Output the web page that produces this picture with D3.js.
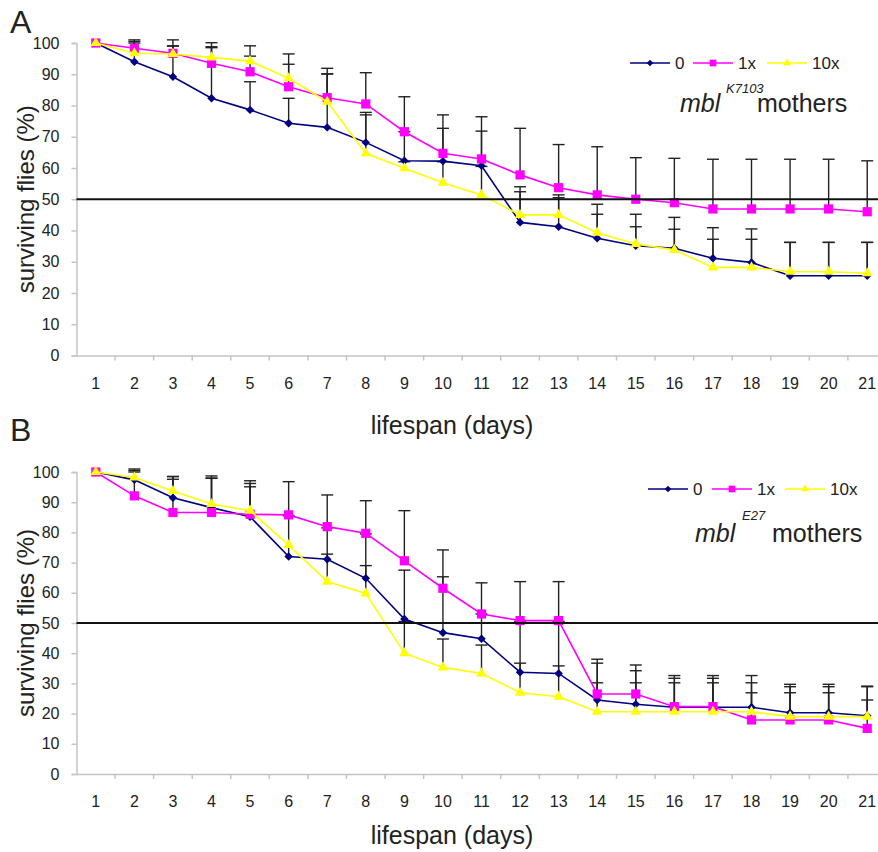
<!DOCTYPE html>
<html>
<head>
<meta charset="utf-8">
<script src="https://cdn.jsdelivr.net/npm/d3@7/dist/d3.min.js"></script>
<style>
  body { margin: 0; background: #fff; }
  text { font-family: "Liberation Sans", Arial, sans-serif; fill: #222; }
</style>
</head>
<body>
<div class="canvas"></div>
<script>
// data (surviving flies, %)
const days = [1, 2, 3, 4, 5, 6, 7, 8, 9, 10, 11, 12, 13, 14, 15, 16, 17, 18, 19, 20, 21];
const yTicks = [0, 10, 20, 30, 40, 50, 60, 70, 80, 90, 100];
const seriesNames = ['0', '1x', '10x'];

// panel A : mbl K7103 mothers
const aCtrl = [100, 94.0, 89.2, 82.3, 78.6, 74.3, 73.0, 68.2, 62.3, 62.2, 60.7, 42.6, 41.2, 37.5, 35.1, 34.3, 31.1, 29.8, 25.5, 25.5, 25.5];
const a1x = [100, 98.3, 96.7, 93.5, 90.8, 86.0, 82.5, 80.5, 71.6, 64.7, 62.9, 57.8, 53.7, 51.4, 50.0, 48.9, 46.9, 46.9, 46.9, 46.9, 46.0];
const a10x = [100, 96.7, 96.5, 95.4, 94.2, 88.7, 81.2, 64.7, 59.9, 55.3, 51.4, 45.0, 45.0, 39.3, 35.7, 33.8, 28.2, 28.2, 26.8, 26.8, 26.3];
// upper end of the error bars (null = no bar seen)
const aCtrlUp = [null, 100.5, 101, 100.1, 87.6, 82.3, 90.1, 77.8, 71.6, 72.7, 71.8, 52.4, 51.4, 48.4, 45.2, 44.2, 40.9, 40.5, 36.2, 36.2, 36.2];
const a1xUp = [null, 101, 99.1, 98.8, 95.8, 93.2, 91.9, 90.5, 82.8, 77.0, 76.4, 72.7, 67.5, 66.8, 63.3, 63.1, 62.8, 62.8, 62.8, 62.8, 62.3];
const a10xUp = [null, 100, 99, 98.5, 99.1, 96.5, 90.1, 77.0, 62.0, 62.0, 60.5, 54.0, 50.5, 45.2, 41.2, 40.4, 37.2, 37.2, 36.2, 36.2, 36.2];

// panel B : mbl E27 mothers
const bCtrl = [100, 97.4, 91.5, 88.2, 85.2, 72.0, 71.1, 64.8, 51.3, 46.8, 44.8, 33.7, 33.3, 24.5, 23.1, 22.1, 22.1, 22.1, 20.3, 20.3, 19.3];
const b1x = [100, 92.1, 86.6, 86.6, 86.0, 85.8, 81.9, 79.7, 70.6, 61.5, 53.0, 50.8, 50.8, 26.5, 26.5, 22.3, 22.3, 17.9, 17.9, 17.9, 15.1];
const b10x = [100, 98.2, 93.7, 89.4, 87.2, 75.8, 63.7, 59.8, 40.0, 35.3, 33.3, 26.9, 25.6, 20.6, 20.6, 20.6, 20.6, 20.6, 19.0, 19.0, 19.0];
const bCtrlUp = [null, 101, 98.5, 97.9, 97.1, 85.5, 81.5, 79.5, 67.5, 65.3, 53.0, 50.5, 50.5, 36.7, 34.2, 31.7, 31.7, 32.6, 29.7, 29.7, 29.1];
const b1xUp = [null, 100, 97.6, 98.7, 96.2, 96.8, 92.4, 90.5, 87.2, 74.2, 63.3, 63.7, 63.7, 38.0, 36.1, 32.6, 32.6, 26.9, 26.9, 26.9, 24.5];
const b10xUp = [null, 100.5, 98.5, 98.0, 95.1, null, 72.8, 69.0, 50.5, 44.7, 42.7, 36.7, 35.8, 30.2, 30.2, 30.2, 30.2, 30.2, 28.9, 28.9, 28.9];

const colors = ['#000080', '#ff00ff', '#ffff00'];

const width = 878, height = 852;
const svg = d3.select('.canvas')
  .append('svg')
  .attr('width', width)
  .attr('height', height);

// shared x scale (plot runs off the right edge like the original)
const x = d3.scaleBand()
  .domain(days)
  .range([76.5, 886.5]);
const cx = d => x(d) + x.bandwidth() / 2;

// marker for each series
const marker = (i, big) => {
  if (i === 0) return d3.symbol().type(d3.symbolSquare).size(big ? 36 : 22)();
  if (i === 1) return d3.symbol().type(d3.symbolSquare).size(big ? 85 : 45)();
  return d3.symbol().type(d3.symbolTriangle).size(big ? 48 : 28)();
};
const markerRot = i => i === 0 ? ' rotate(45)' : '';

const panels = [
  {
    letter: 'A', letterY: 33, y0: 355.5, y100: 43, tickY: 33.5, titleY: 434,
    legendY: 63, legendX: [630, 693, 767], geno: { x: 680, y: 112, sup: 'K7103', supX: 726, supY: 93, mothX: 757 },
    values: [aCtrl, a1x, a10x], ups: [aCtrlUp, a1xUp, a10xUp]
  },
  {
    letter: 'B', letterY: 441, y0: 774, y100: 472, tickY: 33, titleY: 844,
    legendY: 489, legendX: [648, 712, 785], geno: { x: 695, y: 542, sup: 'E27', supX: 742, supY: 520, mothX: 772 },
    values: [bCtrl, b1x, b10x], ups: [bCtrlUp, b1xUp, b10xUp]
  }
];

panels.forEach(p => {
  const g = svg.append('g');
  const y = d3.scaleLinear().domain([0, 100]).range([p.y0, p.y100]);

  // panel letter
  g.append('text')
    .attr('x', 10).attr('y', p.letterY)
    .attr('font-size', 32)
    .text(p.letter);

  // y axis
  const yAxis = d3.axisLeft(y).tickValues(yTicks).tickSize(5).tickPadding(12);
  const yg = g.append('g').attr('transform', `translate(${x.range()[0]},0)`).call(yAxis);
  yg.select('.domain').attr('stroke', '#c4c4c4').attr('stroke-width', 1.5);
  yg.selectAll('.tick line').attr('stroke', '#c4c4c4').attr('stroke-width', 1.5);
  yg.selectAll('.tick text').attr('font-size', 16).attr('fill', '#222');

  // x axis: labels at band centres, ticks between bands
  const xAxis = d3.axisBottom(x).tickSize(0).tickPadding(0);
  const xg = g.append('g').attr('transform', `translate(0,${p.y0})`).call(xAxis);
  xg.select('.domain').attr('stroke', '#c4c4c4').attr('stroke-width', 1.5);
  xg.selectAll('.tick text')
    .attr('font-size', 16).attr('fill', '#222')
    .attr('dy', null).attr('y', p.tickY);
  xg.selectAll('line.sep')
    .data(days.slice(1))
    .enter().append('line')
    .attr('class', 'sep')
    .attr('x1', d => x(d)).attr('x2', d => x(d))
    .attr('y1', 0).attr('y2', 5)
    .attr('stroke', '#c4c4c4').attr('stroke-width', 1.5);

  // axis titles
  g.append('text')
    .attr('transform', `translate(34,${(p.y0 + p.y100) / 2}) rotate(-90)`)
    .attr('text-anchor', 'middle')
    .attr('font-size', 24)
    .text('surviving flies (%)');
  g.append('text')
    .attr('x', 452).attr('y', p.titleY)
    .attr('text-anchor', 'middle')
    .attr('font-size', 25)
    .text('lifespan (days)');

  // error bars (upper only), under the lines
  p.values.forEach((vals, i) => {
    const bars = days.map((d, j) => ({ d, v: vals[j], up: p.ups[i][j] })).filter(e => e.up !== null);
    const eg = g.append('g').attr('stroke', '#222').attr('stroke-width', 1.4);
    eg.selectAll('line.bar').data(bars).enter().append('line')
      .attr('x1', e => cx(e.d)).attr('x2', e => cx(e.d))
      .attr('y1', e => y(e.v)).attr('y2', e => y(e.up));
    eg.selectAll('line.cap').data(bars).enter().append('line')
      .attr('x1', e => cx(e.d) - 6).attr('x2', e => cx(e.d) + 6)
      .attr('y1', e => y(e.up)).attr('y2', e => y(e.up));
  });

  // series lines and markers
  p.values.forEach((vals, i) => {
    const pts = days.map((d, j) => ({ d, v: vals[j] }));
    g.append('path')
      .datum(pts)
      .attr('fill', 'none')
      .attr('stroke', colors[i])
      .attr('stroke-width', 1.6)
      .attr('d', d3.line().x(e => cx(e.d)).y(e => y(e.v)));
    g.selectAll(null).data(pts).enter().append('path')
      .attr('transform', e => `translate(${cx(e.d)},${y(e.v)})${markerRot(i)}`)
      .attr('fill', colors[i])
      .attr('d', marker(i, true));
  });

  // 50 % reference line
  g.append('line')
    .attr('x1', x.range()[0]).attr('x2', width)
    .attr('y1', y(50)).attr('y2', y(50))
    .attr('stroke', '#111').attr('stroke-width', 2);

  // legend
  seriesNames.forEach((name, i) => {
    const lx = p.legendX[i];
    g.append('line')
      .attr('x1', lx).attr('x2', lx + 40)
      .attr('y1', p.legendY).attr('y2', p.legendY)
      .attr('stroke', colors[i]).attr('stroke-width', 1.6);
    g.append('path')
      .attr('transform', `translate(${lx + 20},${p.legendY})${markerRot(i)}`)
      .attr('fill', colors[i])
      .attr('d', marker(i, false));
    g.append('text')
      .attr('x', lx + 45).attr('y', p.legendY + 6)
      .attr('font-size', 17)
      .text(name);
  });

  // genotype label
  g.append('text')
    .attr('x', p.geno.x).attr('y', p.geno.y)
    .attr('font-size', 25).attr('font-style', 'italic')
    .text('mbl');
  g.append('text')
    .attr('x', p.geno.supX).attr('y', p.geno.supY)
    .attr('font-size', 13).attr('font-style', 'italic')
    .text(p.geno.sup);
  g.append('text')
    .attr('x', p.geno.mothX).attr('y', p.geno.y)
    .attr('font-size', 25)
    .text('mothers');
});
</script>
</body>
</html>
